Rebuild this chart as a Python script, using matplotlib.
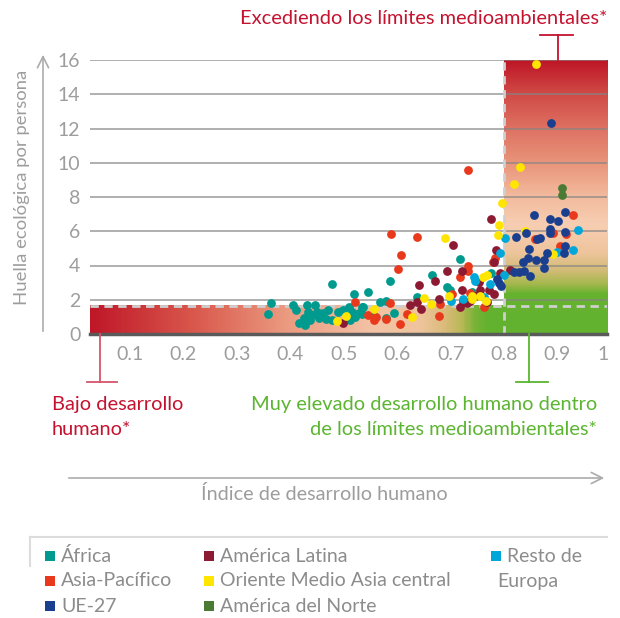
import numpy as np
import matplotlib.pyplot as plt
from matplotlib.colors import LinearSegmentedColormap
from matplotlib.patches import Rectangle
from matplotlib.lines import Line2D

plt.rcParams['font.family'] = ['Lato', 'DejaVu Sans']

# --- data (IDH, huella ecológica) ---
africa_x = [0.359, 0.363, 0.405, 0.410, 0.417, 0.425, 0.428, 0.431, 0.433, 0.437,
            0.440, 0.446, 0.450, 0.453, 0.462, 0.466, 0.471, 0.478, 0.479, 0.490,
            0.498, 0.509, 0.512, 0.515, 0.519, 0.521, 0.528, 0.534, 0.534, 0.537,
            0.546, 0.556, 0.568, 0.579, 0.579, 0.586, 0.594, 0.638, 0.665, 0.693,
            0.699, 0.717, 0.740, 0.775]
africa_y = [1.17, 1.83, 1.71, 1.40, 0.62, 0.92, 0.53, 1.70, 1.31, 0.82,
            1.11, 1.70, 1.30, 0.95, 1.20, 0.90, 1.40, 2.94, 0.82, 1.30,
            1.40, 1.60, 0.82, 1.30, 2.36, 1.01, 1.21, 1.60, 1.17, 1.60,
            2.44, 1.05, 1.85, 1.95, 0.95, 3.10, 1.21, 2.15, 3.45, 2.77,
            2.59, 4.37, 2.47, 3.55]

asia_x = [0.522, 0.545, 0.557, 0.561, 0.579, 0.586, 0.589, 0.602, 0.606, 0.608,
          0.619, 0.638, 0.679, 0.680, 0.703, 0.718, 0.732, 0.732, 0.732, 0.737,
          0.762, 0.780, 0.784, 0.859, 0.891, 0.905, 0.916, 0.929]
asia_y = [1.89, 1.10, 0.82, 1.01, 0.86, 1.79, 5.85, 3.80, 0.60, 4.62,
          1.17, 5.65, 1.07, 1.75, 2.34, 3.31, 9.57, 3.98, 3.70, 2.42,
          1.60, 4.21, 4.42, 5.56, 5.87, 5.15, 5.85, 6.92]

latam_x = [0.498, 0.624, 0.638, 0.641, 0.644, 0.671, 0.679, 0.693, 0.705, 0.718,
           0.721, 0.722, 0.723, 0.730, 0.737, 0.745, 0.753, 0.755, 0.768, 0.772,
           0.775, 0.781, 0.782, 0.785, 0.793, 0.812]
latam_y = [0.64, 1.70, 1.88, 2.89, 1.47, 3.07, 2.03, 3.67, 5.20, 1.56,
           3.67, 2.57, 1.95, 1.80, 1.91, 2.20, 3.06, 2.55, 1.89, 2.57,
           6.71, 4.23, 2.34, 4.89, 3.58, 3.75]

europa_x = [0.701, 0.724, 0.744, 0.746, 0.762, 0.773, 0.793, 0.800, 0.802, 0.900,
            0.929, 0.939]
europa_y = [1.93, 2.07, 3.35, 3.12, 2.18, 2.92, 4.72, 3.45, 5.63, 4.81,
            4.89, 6.06]

oriente_x = [0.487, 0.504, 0.557, 0.627, 0.651, 0.664, 0.689, 0.697, 0.740, 0.740,
             0.755, 0.761, 0.767, 0.769, 0.789, 0.790, 0.797, 0.819, 0.830, 0.840,
             0.860, 0.891]
oriente_y = [0.76, 1.05, 1.47, 1.01, 2.08, 1.75, 5.59, 2.22, 2.22, 2.05,
             2.22, 3.33, 1.95, 3.43, 5.81, 6.35, 7.64, 8.77, 9.78, 6.04,
             15.79, 4.70]

ue_x = [0.787, 0.791, 0.794, 0.818, 0.823, 0.828, 0.836, 0.837, 0.841, 0.846,
        0.847, 0.848, 0.857, 0.860, 0.862, 0.867, 0.875, 0.875, 0.881, 0.886,
        0.886, 0.887, 0.889, 0.902, 0.913, 0.914, 0.914, 0.914]
ue_y = [3.20, 3.00, 2.81, 3.64, 5.65, 3.63, 4.21, 3.70, 5.89, 4.42,
        4.95, 3.37, 6.96, 4.35, 5.57, 5.61, 4.35, 3.84, 4.72, 6.16,
        5.89, 6.71, 12.30, 6.61, 4.72, 7.10, 5.93, 5.11]

norte_x = [0.908, 0.908]
norte_y = [8.50, 8.11]

x_ticks = [0.1, 0.2, 0.3, 0.4, 0.5, 0.6, 0.7, 0.8, 0.9]
y_ticks = [0, 2, 4, 6, 8, 10, 12, 14, 16]

col = {'África': '#009a8e', 'Asia-Pacífico': '#e8391d', 'UE-27': '#1b3f8f',
       'América Latina': '#8c1a32', 'Oriente Medio Asia central': '#ffe500',
       'América del Norte': '#4b7a35', 'Resto de Europa': '#00a7d8'}

W, H = 620, 618
fig = plt.figure(figsize=(W / 100, H / 100), dpi=100)


def fx(px):
    return px / W


def fy(py):
    return 1 - py / H


ax = fig.add_axes([fx(90), fy(334), (607 - 90) / W, (334 - 60) / H])
x0, x1 = 0.025, 0.993
ax.set_xlim(x0, x1)
ax.set_ylim(0, 16)

# background gradients
band_top = 1.65
band_cmap = LinearSegmentedColormap.from_list('band', [
    (0.0, '#bf1728'), (0.2, '#d9584c'), (0.38, '#eb9b80'), (0.55, '#f4c3a6'),
    (0.64, '#efc49c'), (0.69, '#d8bb78'), (0.72, '#b9b957'), (0.745, '#7bb337'),
    (0.77, '#62b22f'), (1.0, '#62b22f')])
ax.imshow(np.linspace(0, 1, 400)[None, :], cmap=band_cmap, aspect='auto',
          extent=[x0, x1, 0, band_top], origin='lower', zorder=0)

box_cmap = LinearSegmentedColormap.from_list('box', [
    (0.0, '#62b22f'), (0.145, '#66b22f'), (0.18, '#a4b84c'), (0.23, '#d2bb76'),
    (0.3, '#efc59e'), (0.4, '#f7ceb2'), (0.5, '#f3bb9e'), (0.62, '#e9967c'),
    (0.75, '#de7262'), (0.88, '#d04a46'), (1.0, '#be1626')])
ax.imshow(np.linspace(0, 1, 400)[:, None], cmap=box_cmap, aspect='auto',
          extent=[0.8, x1, 0, 16], origin='lower', zorder=0)

for yv in y_ticks[1:]:
    ax.axhline(yv, color='#858585', alpha=0.7, lw=1.3, zorder=1)
ax.axhline(0, color='#5a5a5a', lw=2.5, zorder=5, clip_on=False)

ax.axhline(band_top, color='#cfcfcf', lw=2, ls=(0, (3, 2)), zorder=2)
ax.plot([0.8, 0.8], [0, 16], color='#cfcfcf', lw=2, ls=(0, (3, 2)), zorder=2)

series = [('África', africa_x, africa_y), ('Asia-Pacífico', asia_x, asia_y),
          ('América Latina', latam_x, latam_y), ('Resto de Europa', europa_x, europa_y),
          ('Oriente Medio Asia central', oriente_x, oriente_y), ('UE-27', ue_x, ue_y),
          ('América del Norte', norte_x, norte_y)]
for name, xs, ys in series:
    ax.scatter(xs, ys, s=40, color=col[name], linewidths=0, zorder=4, clip_on=False)

for s in ax.spines.values():
    s.set_visible(False)
ax.set_xticks(x_ticks)
ax.set_xticklabels([f'{v:.1f}' for v in x_ticks])
ax.set_yticks(y_ticks)
ax.tick_params(length=0, labelcolor='#9d9d9d', labelsize=14)
ax.tick_params(axis='x', pad=9)
ax.tick_params(axis='y', pad=7)
ax.annotate('1', xy=(x1 - 0.007, 0), xycoords=('data', 'axes fraction'),
            xytext=(0, -9), textcoords='offset points', ha='center', va='top',
            color='#9d9d9d', fontsize=14)

red = '#c4122f'
green = '#5cb531'


def fline(xs, ys, c, lw=1.3):
    fig.add_artist(Line2D([fx(v) for v in xs], [fy(v) for v in ys],
                          transform=fig.transFigure, color=c, lw=lw))


# annotations
fig.text(fx(607), fy(18), 'Excediendo los límites medioambientales*', color=red,
         fontsize=14.4, ha='right', va='center')
fline([540, 573], [35, 35], red)
fline([558, 558], [35, 60], red)

fline([100, 100], [334, 382], '#d4566a')
fline([87, 117], [382, 382], '#d4566a')
fig.text(fx(52), fy(417), 'Bajo desarrollo\nhumano*', color=red, fontsize=14.4,
         ha='left', va='center', linespacing=1.55)

fline([529, 529], [334, 382], green)
fline([516, 548], [382, 382], green)
fig.text(fx(597), fy(417), 'Muy elevado desarrollo humano dentro\nde los límites medioambientales*',
         color=green, fontsize=14.4, ha='right', va='center', linespacing=1.55)

# axis arrows
arrow = dict(arrowstyle='->', color='#ababab', lw=1.2, mutation_scale=20)
ax.annotate('', xy=(fx(607), fy(478)), xytext=(fx(66), fy(478)),
            xycoords='figure fraction', textcoords='figure fraction', arrowprops=arrow)
ax.annotate('', xy=(fx(43), fy(52)), xytext=(fx(43), fy(334)),
            xycoords='figure fraction', textcoords='figure fraction', arrowprops=arrow)
fig.text(fx(324), fy(494), 'Índice de desarrollo humano', color='#9d9d9d', fontsize=14.3,
         ha='center', va='center')
fig.text(fx(22), fy(187), 'Huella ecológica por persona', color='#9d9d9d', fontsize=13.3,
         ha='center', va='center', rotation=90)

# legend
fline([30, 607], [537, 537], '#dcdcdc', lw=1.5)
fline([30, 30], [537, 566], '#dcdcdc', lw=1.5)
leg_rows = [['África', 'América Latina', 'Resto de'],
            ['Asia-Pacífico', 'Oriente Medio Asia central', None],
            ['UE-27', 'América del Norte', None]]
sq_x = [45, 204, 491]
tx_x = [61, 220, 507]
row_y = [556, 581, 606]
for r, row in enumerate(leg_rows):
    for c, lab in enumerate(row):
        if lab is None:
            continue
        key = 'Resto de Europa' if lab == 'Resto de' else lab
        fig.add_artist(Rectangle((fx(sq_x[c]), fy(row_y[r] + 5)), 10 / W, 10 / H,
                                 transform=fig.transFigure, color=col[key], lw=0))
        fig.text(fx(tx_x[c]), fy(row_y[r]), lab, color='#8c8c8c', fontsize=14,
                 ha='left', va='center')
fig.text(fx(497), fy(581), 'Europa', color='#8c8c8c', fontsize=14, ha='left', va='center')

fig.savefig('out.png', dpi=100)
